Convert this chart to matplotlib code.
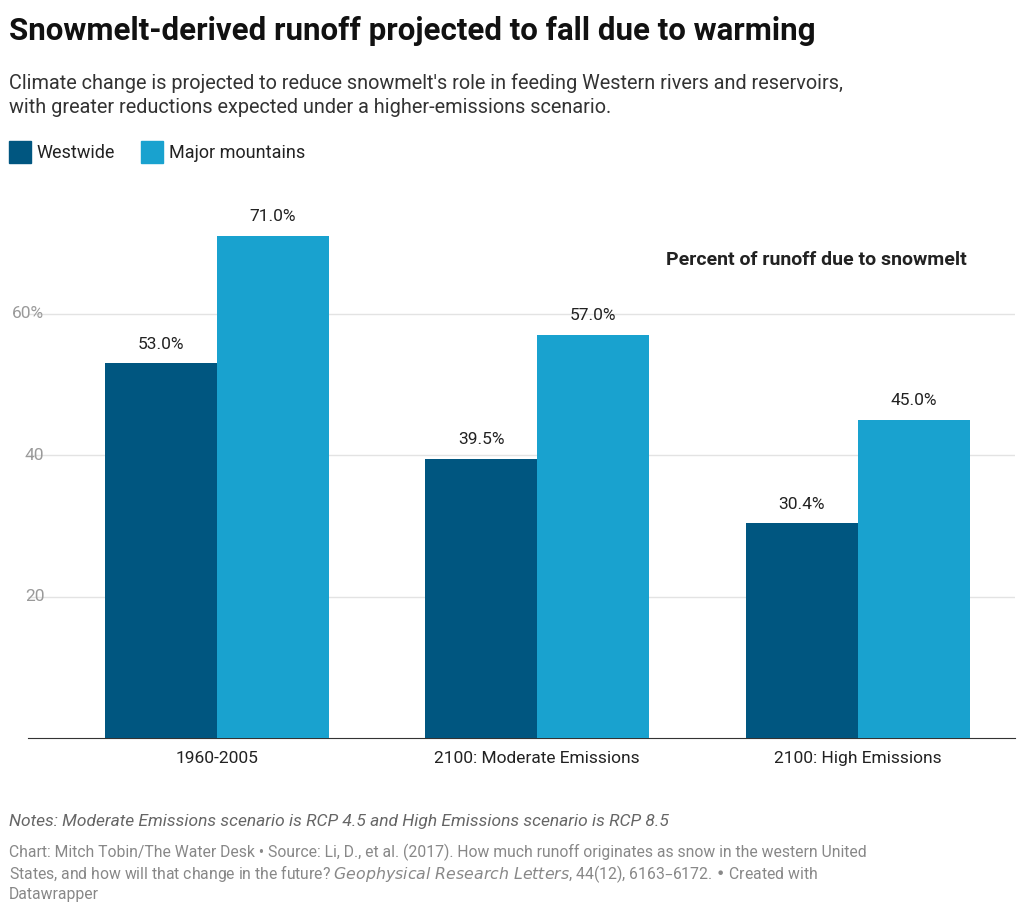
import matplotlib.pyplot as plt
import numpy as np

plt.rcParams['font.family'] = ['Roboto', 'DejaVu Sans']

categories = ["1960-2005", "2100: Moderate Emissions", "2100: High Emissions"]
westwide = [53.0, 39.5, 30.4]
mountains = [71.0, 57.0, 45.0]
dark = "#005680"
light = "#19a2cf"

fig = plt.figure(figsize=(10.24, 9.17), dpi=100)
ax = fig.add_axes([0.027, 0.195, 0.964, 0.592])
x = np.arange(len(categories))
w = 0.35
b1 = ax.bar(x - w/2, westwide, w, color=dark, zorder=3)
b2 = ax.bar(x + w/2, mountains, w, color=light, zorder=3)
for bars, vals in [(b1, westwide), (b2, mountains)]:
    for r, v in zip(bars, vals):
        ax.text(r.get_x() + r.get_width()/2, v + 1.6, f"{v:.1f}%", ha='center', va='bottom',
                fontsize=12.5, color='#222222')

ax.set_xlim(-0.59, 2.49)
ax.set_ylim(0, 76.7)
for g in [20, 40, 60]:
    ax.axhline(g, color='#e3e3e3', lw=1, zorder=1)
    ax.text(0.017, g, "60%" if g == 60 else str(g), transform=ax.get_yaxis_transform(),
            ha='right', va='center', fontsize=12.5, color='#9a9a9a')
ax.set_yticks([])
ax.set_xticks(x)
ax.set_xticklabels(categories, fontsize=12.5, color='#222222')
ax.tick_params(axis='x', length=0, pad=9)
for s in ['top', 'right', 'left']:
    ax.spines[s].set_visible(False)
ax.spines['bottom'].set_color('#333333')
ax.text(2.34, 67.6, "Percent of runoff due to snowmelt", ha='right', va='center',
        fontsize=14, fontweight='bold', color='#222222')

fig.text(0.009, 0.966, "Snowmelt-derived runoff projected to fall due to warming",
         fontsize=22.5, fontweight='bold', va='center', color='#111111')
fig.text(0.009, 0.896, "Climate change is projected to reduce snowmelt's role in feeding Western rivers and reservoirs,\n"
         "with greater reductions expected under a higher-emissions scenario.",
         fontsize=14.3, va='center', color='#333333', linespacing=1.3)
fig.patches.append(plt.Rectangle((0.009, 0.822), 0.021, 0.024, color=dark, transform=fig.transFigure))
fig.text(0.036, 0.8335, "Westwide", fontsize=13, va='center', color='#222222')
fig.patches.append(plt.Rectangle((0.138, 0.822), 0.021, 0.024, color=light, transform=fig.transFigure))
fig.text(0.165, 0.8335, "Major mountains", fontsize=13, va='center', color='#222222')

fig.text(0.009, 0.104, "Notes: Moderate Emissions scenario is RCP 4.5 and High Emissions scenario is RCP 8.5",
         fontsize=12.5, style='italic', va='center', color='#666666')
fig.text(0.009, 0.070, "Chart: Mitch Tobin/The Water Desk • Source: Li, D., et al. (2017). How much runoff originates as snow in the western United",
         fontsize=11.3, va='center', color='#888888')
fig.text(0.009, 0.047, "States, and how will that change in the future? $\\it{Geophysical\\ Research\\ Letters}$, 44(12), 6163–6172. • Created with",
         fontsize=11.3, va='center', color='#888888')
fig.text(0.009, 0.024, "Datawrapper", fontsize=11.3, va='center', color='#888888')

fig.savefig("out.png", dpi=100, facecolor='white')
